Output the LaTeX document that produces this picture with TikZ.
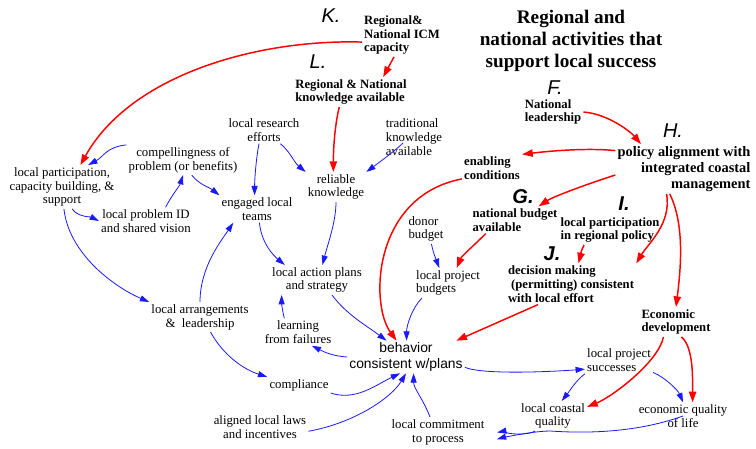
\documentclass[tikz,border=0pt]{standalone}
\usepackage{fontspec}
\setmainfont{Liberation Serif}
\newfontfamily\sansfam{Liberation Sans}
\usetikzlibrary{arrows.meta}
\definecolor{rd}{RGB}{255,0,0}
\definecolor{bl}{RGB}{25,25,255}
\begin{document}
\begin{tikzpicture}[x=0.75pt,y=-0.75pt,
  txt/.style={font=\fontsize{9.6}{10.4}\selectfont, align=center, inner sep=1.5pt},
  bld/.style={font=\fontsize{9.5}{10.4}\selectfont\bfseries, align=left, inner sep=1.5pt},
  bldl/.style={font=\fontsize{10.8}{12}\selectfont\bfseries, align=right, inner sep=1.5pt},
  ttl/.style={font=\fontsize{14.4}{16.5}\selectfont\bfseries, align=center, inner sep=0pt},
  lett/.style={font=\sansfam\fontsize{15}{15}\selectfont\itshape, inner sep=0pt},
  lettb/.style={font=\sansfam\fontsize{15}{15}\selectfont\itshape\bfseries, inner sep=0pt},
  behst/.style={font=\sansfam\fontsize{10.4}{11.4}\selectfont, align=center, inner sep=1.5pt},
  bluearr/.style={draw=bl, line width=0.6pt, -{Triangle[length=7pt,width=4.5pt]}},
  redarr/.style={draw=rd, line width=1.1pt, -{Triangle[length=8pt,width=5.5pt]}}]
\useasboundingbox (0,0) rectangle (756,449);

% nodes
\node[ttl] (title) at (571,41) {Regional and\\national activities that\\support local success};
\node[lett] (K) at (331,16) {K.};
\node[bld] (cap) at (402,35) {Regional\&\\National ICM\\capacity};
\node[lett] (L) at (318,62) {L.};
\node[bld] (know) at (351,92) {Regional \& National\\knowledge available};
\node[txt] (res) at (264,130) {local research\\efforts};
\node[txt, align=left] (trad) at (414,137) {traditional\\knowledge\\available};
\node[txt] (rel) at (336,187) {reliable\\knowledge};
\node[txt] (comp) at (183,160) {compellingness of\\problem (or benefits)};
\node[txt] (lp) at (62,187) {local participation,\\capacity building, \&\\support};
\node[txt] (lpid) at (146,221) {local problem ID\\and shared vision};
\node[txt] (eng) at (257,209) {engaged local\\teams};
\node[txt] (lap) at (317,280) {local action plans\\and strategy};
\node[txt] (arr) at (200,317) {local arrangements\\\&\ \ leadership};
\node[txt] (learn) at (298,332) {learning\\from failures};
\node[txt] (compl) at (299,385) {compliance};
\node[txt] (laws) at (260,427) {aligned local laws\\and incentives};
\node[behst] (beh) at (406,357) {behavior\\consistent w/plans};
\node[txt] (commit) at (438,432) {local commitment\\to process};
\node[txt, align=left] (donor) at (426,229) {donor\\budget};
\node[txt, align=left] (lpb) at (448,283) {local project\\budgets};
\node[bld] (enab) at (492,168) {enabling\\conditions};
\node[lettb] (G) at (523,197) {G.};
\node[bld] (natb) at (515,220) {national budget\\available};
\node[lettb] (I) at (624,204) {I.};
\node[bld] (lpr) at (610,230) {local participation\\in regional policy};
\node[lettb] (J) at (552,254) {J.};
\node[bld] (dec) at (571,284) {decision making\\\ (permitting) consistent\\with local effort};
\node[lett] (F) at (555,88) {F.};
\node[bld] (natl) at (553,112) {National\\leadership};
\node[lett] (H) at (673,131) {H.};
\node[bldl] (pol) at (684,169) {policy alignment with\\integrated coastal\\management};
\node[bld] (econ) at (676,322) {Economic\\development};
\node[txt, align=left] (succ) at (619,360) {local project\\successes};
\node[txt] (coast) at (553,416) {local coastal\\quality};
\node[txt] (eqol) at (683,416) {economic quality\\of life};

% blue connectors
\draw[bluearr] (comp.north west) .. controls +(-20,2) and +(15,-8) .. (lp.40);
\draw[bluearr] (lp.-65) .. controls +(5,8) and +(-8,-4) .. (lpid.west);
\draw[bluearr] (lpid.35) .. controls +(5,-10) and +(-3,10) .. (comp.south);
\draw[bluearr] (comp.-60) .. controls +(8,10) and +(-10,-8) .. (eng.north west);
\draw[bluearr] (res.-110) .. controls +(-3,15) and +(0,-15) .. (eng.100);
\draw[bluearr] (res.-40) .. controls +(10,8) and +(-12,-10) .. (rel.north west);
\draw[bluearr] ([xshift=-8.25pt,yshift=-4.5pt]trad.center) .. controls +(-8,8) and +(8,-6) .. (rel.north east);
\draw[bluearr] (rel.south) .. controls +(0,20) and +(5,-20) .. (lap.70);
\draw[bluearr] (eng.-80) .. controls +(2,20) and +(-12,-10) .. (lap.155);
\draw[bluearr] (lp.-85) .. controls +(5,45) and +(-35,-15) .. (arr.north west);
\draw[bluearr] (arr.north) .. controls +(0,-35) and +(-12,18) .. (eng.-150);
\draw[bluearr] (arr.-55) .. controls +(12,22) and +(-25,-8) .. (compl.north west);
\draw[bluearr] (learn.135) .. controls +(-2,-8) and +(0,8) .. (lap.-157);
\draw[bluearr] (beh.west) .. controls +(-15,-1) and +(12,6) .. (learn.-45);
\draw[bluearr] (lap.-45) .. controls +(15,20) and +(-20,-15) .. (beh.140);
\draw[bluearr] (lpb.-150) .. controls +(-10,10) and +(0,-15) .. (beh.88);
\draw[bluearr] (compl.south east) .. controls +(25,8) and +(-25,12) .. (beh.-110);
\draw[bluearr] (laws.-5) .. controls +(45,-8) and +(-15,25) .. (beh.-90);
\draw[bluearr] (commit.118) .. controls +(-8,-20) and +(0,15) .. (beh.-65);
\draw[bluearr] (beh.-10) .. controls +(20,8) and +(-25,2) .. (succ.-165);
\draw[bluearr] (donor.-70) .. controls +(2,10) and +(-3,-8) .. (lpb.120);
\draw[bluearr] (succ.south west) .. controls +(-10,8) and +(8,-10) .. (coast.60);
\draw[bluearr] (succ.-20) .. controls +(12,5) and +(-5,-12) .. (eqol.north);
\draw[bluearr, shorten >=8pt] (coast.-140) .. controls +(-10,6) and +(10,-2) .. (commit.-3);
\draw[bluearr, shorten >=8pt] (eqol.center) .. controls +(-50,18) and +(30,2) .. (coast.-100) .. controls +(-20,0) and +(10,-3) .. (commit.-12);

% red connectors
\draw[redarr] (cap.190) .. controls +(-105,-3) and +(50,-90) .. (lp.50);
\draw[redarr] (cap.-110) -- (know.25);
\draw[redarr] (know.-128) .. controls +(-5,20) and +(0,-20) .. (rel.100);
\draw[redarr] (natl.east) .. controls +(25,2) and +(-10,-12) .. (pol.150);
\draw[redarr] (pol.165) .. controls +(-30,-3) and +(25,-3) .. (enab.north east);
\draw[redarr] (pol.-175) .. controls +(-25,8) and +(15,-10) .. (natb.30);
\draw[redarr] (enab.-160) .. controls +(-89,17) and +(-27,-37) .. (beh.120);
\draw[redarr] (natb.-155) .. controls +(-10,10) and +(5,-12) .. (lpb.60);
\draw[redarr] (lpr.-150) .. controls +(-4,8) and +(2,-8) .. (dec.70);
\draw[redarr] (pol.-125) .. controls +(5,30) and +(12,-20) .. (dec.north east);
\draw[redarr] (pol.-120) .. controls +(15,30) and +(5,-40) .. (econ.north);
\draw[redarr] (dec.-148) -- (beh.18);
\draw[redarr] (econ.-130) .. controls +(-5,25) and +(25,-10) .. (coast.15);
\draw[redarr] (econ.-70) .. controls +(12,10) and +(0,-25) .. (eqol.55);
\end{tikzpicture}
\end{document}
